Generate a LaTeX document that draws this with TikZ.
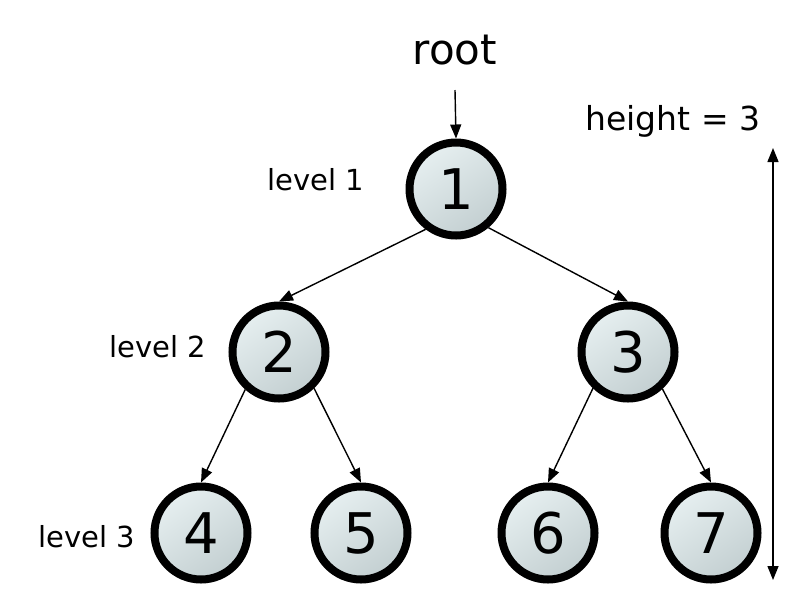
\documentclass[tikz,border=0pt]{standalone}
\usepackage{fontspec}
\setmainfont{DejaVu Sans}
\usetikzlibrary{arrows.meta}
\definecolor{nodelight}{HTML}{E6EFF0}
\definecolor{nodedark}{HTML}{C3CFD1}
\tikzset{
  treenode/.style={circle, draw=black, line width=8pt, minimum size=93pt, inner sep=0pt,
    shading=axis, top color=nodelight, bottom color=nodedark, shading angle=35,
    font=\fontsize{56}{60}\selectfont},
  edge/.style={line width=1.4pt, -{Triangle[length=14pt,width=11pt]}},
  lvl/.style={font=\fontsize{29}{32}\selectfont},
}
\begin{document}
\begin{tikzpicture}[x=1pt,y=-1pt]
\useasboundingbox[fill=white] (0,0) rectangle (792,614);
\node[treenode] (n1) at (456,189) {1};
\node[treenode] (n2) at (279,352) {2};
\node[treenode] (n3) at (628,352) {3};
\node[treenode] (n4) at (201,533) {4};
\node[treenode] (n5) at (361,533) {5};
\node[treenode] (n6) at (548,533) {6};
\node[treenode] (n7) at (711,533) {7};
\node[font=\fontsize{42}{46}\selectfont] (root) at (455,50) {root};
\node[font=\fontsize{33}{36}\selectfont] (ht) at (673,121) {height = 3};
\node[lvl] (l1) at (316,180) {level 1};
\node[lvl] (l2) at (158,347) {level 2};
\node[lvl] (l3) at (87,537) {level 3};
\coordinate (rs) at (455,90);
\coordinate (ha) at (773,148);
\coordinate (hb) at (773,580);
\draw[edge] (rs) -- (n1.north);
\draw[edge] (n1.-127) -- (n2.north);
\draw[edge] (n1.-50) -- (n3.north);
\draw[edge] (n2.-132) -- (n4.north);
\draw[edge] (n2.-46) -- (n5.north);
\draw[edge] (n3.-134) -- (n6.north);
\draw[edge] (n3.-47) -- (n7.north);
\draw[line width=1.4pt, {Triangle[length=14pt,width=11pt]}-{Triangle[length=14pt,width=11pt]}] (ha) -- (hb);
\end{tikzpicture}
\end{document}
